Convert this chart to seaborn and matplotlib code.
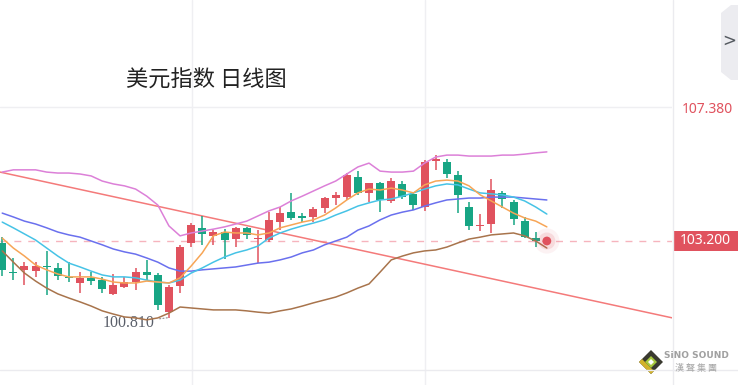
import matplotlib
matplotlib.use("Agg")
import matplotlib.pyplot as plt
import matplotlib.transforms as mtransforms
from matplotlib.patches import Polygon, Rectangle
import numpy as np
import pandas as pd
import seaborn as sns

sns.set_theme(style="white")
plt.rcParams['font.family'] = ['Noto Sans CJK SC', 'DejaVu Sans']

title = "美元指数 日线图"

# daily candles
opens = [103.14, 102.23, 102.30, 102.27, 102.42, 102.35, 102.08, 101.90, 102.04, 101.98,
         101.55, 101.77, 101.93, 102.24, 102.14, 100.99, 101.80, 103.13, 103.60, 103.37,
         103.47, 103.25, 103.60, 103.25, 103.23, 103.80, 104.11, 103.98, 103.96, 104.22,
         104.53, 104.58, 105.19, 104.69, 105.00, 104.45, 104.97, 104.66, 104.27, 105.71,
         105.67, 105.26, 104.27, 103.66, 103.72, 104.69, 104.43, 103.82, 103.30, 103.21]
highs = [103.32, 102.67, 102.55, 102.55, 102.89, 102.51, 102.55, 102.24, 102.24, 102.09,
         102.17, 102.09, 102.35, 102.61, 102.19, 101.83, 103.08, 103.75, 103.98, 103.54,
         103.57, 103.65, 103.65, 103.54, 104.11, 104.27, 104.69, 104.08, 104.27, 104.58,
         104.74, 105.31, 105.38, 105.02, 105.05, 105.18, 105.07, 104.74, 105.73, 105.88,
         105.76, 105.38, 104.41, 104.03, 105.13, 104.76, 104.48, 103.96, 103.47, 103.24]
lows = [102.11, 101.98, 101.83, 102.09, 101.52, 101.98, 101.93, 101.59, 101.83, 101.59,
        101.52, 101.72, 101.67, 101.98, 101.05, 100.81, 101.57, 103.02, 103.08, 103.08,
        102.63, 103.02, 103.25, 102.50, 103.18, 103.54, 103.86, 103.80, 103.80, 104.06,
        104.32, 104.48, 104.64, 104.43, 104.11, 104.39, 104.51, 104.17, 104.14, 105.42,
        105.16, 104.06, 103.54, 103.51, 103.44, 104.22, 103.70, 103.29, 103.02, 103.18]
closes = [102.30, 102.20, 102.42, 102.42, 102.38, 102.11, 102.05, 102.04, 101.96, 101.69,
          101.83, 101.93, 102.24, 102.14, 101.20, 101.76, 103.02, 103.70, 103.41, 103.49,
          103.23, 103.60, 103.39, 103.27, 103.86, 104.06, 103.91, 103.92, 104.19, 104.55,
          104.64, 105.26, 104.69, 105.00, 104.48, 105.07, 104.58, 104.32, 105.67, 105.74,
          105.28, 104.64, 103.67, 103.68, 104.79, 104.51, 103.89, 103.33, 103.20, 103.20]

ma5 = [103.29, 102.98, 102.73, 102.45, 102.30, 102.17, 102.08, 102.08, 102.08, 102.01,
       101.92, 101.89, 101.89, 101.95, 101.92, 101.89, 102.05, 102.42, 102.83, 103.36,
       103.48, 103.45, 103.45, 103.39, 103.45, 103.61, 103.70, 103.79, 103.86, 104.01,
       104.23, 104.48, 104.70, 104.82, 104.79, 104.85, 104.79, 104.70, 104.95, 105.07,
       105.10, 105.07, 104.92, 104.64, 104.45, 104.26, 104.07, 103.92, 103.82, 103.64]
ma10 = [103.79, 103.61, 103.42, 103.23, 102.98, 102.73, 102.51, 102.39, 102.26, 102.14,
        102.08, 102.08, 102.05, 101.98, 101.92, 101.89, 101.98, 102.20, 102.36, 102.54,
        102.70, 102.83, 102.92, 103.04, 103.29, 103.45, 103.57, 103.67, 103.76, 103.86,
        104.01, 104.14, 104.29, 104.39, 104.48, 104.51, 104.60, 104.70, 104.82, 104.92,
        104.98, 104.95, 104.82, 104.70, 104.67, 104.64, 104.57, 104.45, 104.26, 104.04]
ma20 = [104.07, 103.95, 103.82, 103.73, 103.61, 103.48, 103.39, 103.32, 103.20, 103.08,
        102.95, 102.86, 102.79, 102.67, 102.54, 102.36, 102.26, 102.26, 102.30, 102.33,
        102.36, 102.39, 102.45, 102.51, 102.54, 102.61, 102.70, 102.83, 102.92, 103.08,
        103.20, 103.32, 103.54, 103.67, 103.86, 104.01, 104.10, 104.17, 104.29, 104.39,
        104.48, 104.51, 104.54, 104.54, 104.57, 104.57, 104.57, 104.54, 104.51, 104.48]
boll_up = [105.35, 105.42, 105.42, 105.42, 105.35, 105.32, 105.32, 105.29, 105.23, 105.07,
           104.98, 104.92, 104.82, 104.60, 104.32, 103.67, 103.36, 103.45, 103.51, 103.57,
           103.64, 103.73, 103.82, 103.98, 104.14, 104.26, 104.45, 104.60, 104.76, 104.92,
           105.07, 105.29, 105.51, 105.63, 105.38, 105.35, 105.35, 105.38, 105.63, 105.82,
           105.88, 105.88, 105.85, 105.85, 105.85, 105.88, 105.88, 105.91, 105.95, 105.98]
boll_dn = [102.89, 102.54, 102.20, 101.95, 101.73, 101.55, 101.42, 101.30, 101.17, 101.02,
           100.92, 100.83, 100.80, 100.74, 100.80, 100.95, 101.14, 101.11, 101.08, 101.05,
           101.05, 101.05, 101.02, 100.98, 100.95, 101.02, 101.08, 101.17, 101.27, 101.36,
           101.45, 101.58, 101.73, 101.86, 102.23, 102.61, 102.73, 102.83, 102.89, 102.92,
           103.01, 103.14, 103.26, 103.32, 103.39, 103.42, 103.45, 103.36, 103.20, 102.98]

trend_days = [-0.2, 60.3]
trend_prices = [105.35, 100.80]
grid_days = [17.08, 38.04]

last_price = 103.200
low_price = 100.810
low_day = 15
top_label = 107.380

UP = "#e0525e"
DOWN = "#17a584"
line_colors = {"MA5": "#f7a556", "MA10": "#46c3e6", "MA20": "#6a70ee",
               "UP": "#dc80d8", "DN": "#a8744c"}

days = np.arange(len(closes))
frame = pd.DataFrame({"day": days, "MA5": ma5, "MA10": ma10, "MA20": ma20,
                      "UP": boll_up, "DN": boll_dn})

W, H = 738, 385
fig = plt.figure(figsize=(W / 100, H / 100), dpi=100)
ax = fig.add_axes([0, 0, 672 / W, 1])

for g in grid_days:
    ax.axvline(g, color="#efeff2", lw=1, zorder=0)
ax.axhline(top_label, color="#efeff2", lw=1, zorder=0)

# trend line
sns.lineplot(x=trend_days, y=trend_prices, color="#f47a7a", lw=1.1, ax=ax, zorder=2)

# last price dashed line
ax.axhline(last_price, color="#f6b4bd", lw=1, ls=(0, (5, 5)), zorder=1)

# candles
o = np.array(opens)
c = np.array(closes)
cols = np.where(c >= o, UP, DOWN)
ax.vlines(days, lows, highs, colors=cols, lw=1.1, zorder=3)
ax.bar(days, np.maximum(np.abs(c - o), 0.04), bottom=np.minimum(o, c), width=0.72,
       color=cols, lw=0, zorder=3)

for name in ["DN", "UP", "MA20", "MA10", "MA5"]:
    sns.lineplot(data=frame, x="day", y=name, color=line_colors[name], lw=1.1,
                 ax=ax, zorder=4)

# last price dot with glow
ax.scatter([days[-1]] * 3, [last_price] * 3, s=[330, 150, 40], color=UP,
           alpha=1, lw=0, zorder=5)
for coll, a in zip(ax.collections[-1:], [1]):
    coll.set_alpha(None)
ax.collections[-1].set_facecolors([(0.88, 0.32, 0.37, 0.07), (0.88, 0.32, 0.37, 0.15),
                                   (0.88, 0.32, 0.37, 1.0)])

ax.annotate(f"{low_price:.3f}", xy=(low_day, low_price), xytext=(-14, -5),
            textcoords="offset pixels", ha="right", va="center", fontsize=11.5,
            color="#5a5f6a", family="Liberation Serif",
            arrowprops=dict(arrowstyle="-", ls=(0, (1, 2)), color="#8a8a8a", lw=0.8,
                            shrinkA=1, shrinkB=1))

ax.set_xlim(-0.2, 60.26)
ax.set_ylim(98.707, 110.719)
ax.axis("off")

# overlay in pixel coords for frame pieces
ov = fig.add_axes([0, 0, 1, 1], zorder=5)
ov.set_xlim(0, W)
ov.set_ylim(H, 0)
ov.axis("off")
ov.patch.set_alpha(0)
ov.axvline(672.5, color="#ebebef", lw=1)
ov.axhline(369.5, color="#ebebef", lw=1)

blend = mtransforms.blended_transform_factory(ov.transData, ax.transData)
ov.text(707, top_label - 0.09, f"{top_label:.3f}", transform=blend, ha="center",
        va="center", fontsize=10, color=UP, family="Noto Sans")
ov.add_patch(Rectangle((673, last_price - 0.32), 65, 0.64, transform=blend,
                       fc=UP, ec="none"))
ov.text(705.5, last_price, f"{last_price:.3f}", transform=blend, ha="center",
        va="center", fontsize=10, color="white", family="Noto Sans")

fig.text(206 / W, 1 - 80 / H, title, ha="center", va="center", fontsize=16,
         color="#222222")

# collapse tab
ov.add_patch(Polygon([(721, 13), (731, 5), (738, 5), (738, 80), (731, 80), (721, 72)],
                     fc="#ececf0", ec="none"))
ov.text(729, 41, ">", ha="center", va="center", fontsize=12, color="#555a60",
        family="DejaVu Sans")

# logo
cx, cy = 651, 362
ov.add_patch(Polygon([(cx, cy - 12), (cx + 12, cy), (cx, cy + 12), (cx - 12, cy)],
                     fc="#3a3a30", ec="none"))
ov.add_patch(Polygon([(cx - 12, cy), (cx, cy + 12), (cx + 3, cy + 9), (cx - 9, cy - 3)],
                     fc="#d2b22a", ec="none"))
ov.add_patch(Polygon([(cx, cy - 6), (cx + 6, cy), (cx, cy + 6), (cx - 6, cy)],
                     fc="#a6c83c", ec="none"))
ov.add_patch(Polygon([(cx, cy - 3), (cx + 3, cy), (cx, cy + 3), (cx - 3, cy)],
                     fc="white", ec="none"))
ov.text(696, 356, "SiNO SOUND", ha="center", va="center", fontsize=6.5,
        weight="bold", color="#a0a0a0", family="DejaVu Sans")
ov.text(696, 368, "漢 聲 集 團", ha="center", va="center", fontsize=6.5,
        color="#a8a8a8")

fig.savefig("out.png", dpi=100)
